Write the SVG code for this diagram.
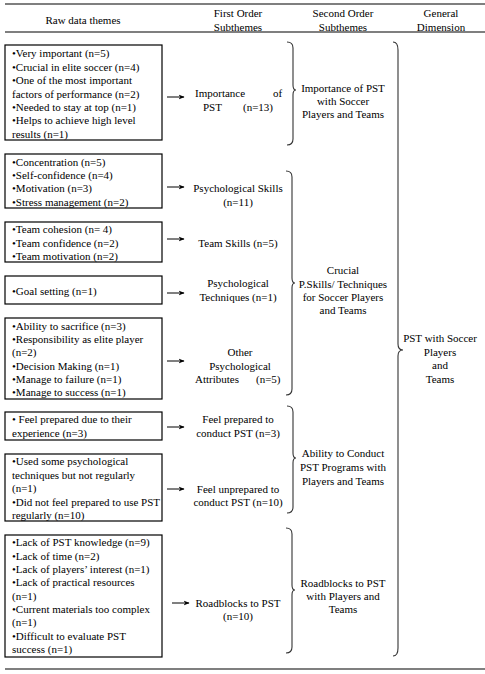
<svg xmlns="http://www.w3.org/2000/svg" width="485" height="674" viewBox="0 0 485 674">
<style>
text{font-family:"Liberation Serif","Times New Roman",serif;font-size:11px;fill:#000}
.c{text-anchor:middle}
.box{fill:#fff;stroke:#000;stroke-width:1.2}
.rule{stroke:#000;stroke-width:1.2}
.arr{stroke:#000;stroke-width:1;fill:none;marker-end:url(#ah)}
.br{stroke:#333;stroke-width:1.1;fill:none}
</style>
<defs>
<marker id="ah" viewBox="0 0 10 10" refX="9" refY="5" markerWidth="6" markerHeight="6" markerUnits="userSpaceOnUse" orient="auto">
<path d="M0,1 L10,5 L0,9 L3,5 Z" fill="#000"/>
</marker>
</defs>
<rect width="485" height="674" fill="#fff"/>
<g id="header">
<line class="rule" x1="5" y1="4" x2="485" y2="4"/>
<line class="rule" x1="5" y1="32" x2="485" y2="32"/>
<text class="c" x="83" y="24">Raw data themes</text>
<text class="c" x="238" y="17">First Order</text>
<text class="c" x="238" y="31">Subthemes</text>
<text class="c" x="343" y="17">Second Order</text>
<text class="c" x="343" y="31">Subthemes</text>
<text class="c" x="441" y="17">General</text>
<text class="c" x="441" y="31">Dimension</text>
<line class="rule" x1="5" y1="669" x2="485" y2="669"/>
</g>
<g id="raw1">
<rect class="box" x="5" y="45" width="157" height="95"/>
<text x="12" y="57">•Very important (n=5)</text>
<text x="12" y="71">•Crucial in elite soccer (n=4)</text>
<text x="12" y="84">•One of the most important</text>
<text x="12" y="98">factors of performance (n=2)</text>
<text x="12" y="111">•Needed to stay at top (n=1)</text>
<text x="12" y="124">•Helps to achieve high level</text>
<text x="12" y="138">results  (n=1)</text>
</g>
<g id="raw2">
<rect class="box" x="5" y="154" width="157" height="54"/>
<text x="12" y="166">•Concentration (n=5)</text>
<text x="12" y="179">•Self-confidence (n=4)</text>
<text x="12" y="192">•Motivation (n=3)</text>
<text x="12" y="206">•Stress management (n=2)</text>
</g>
<g id="raw3">
<rect class="box" x="5" y="222" width="157" height="40"/>
<text x="12" y="233">•Team cohesion (n= 4)</text>
<text x="12" y="247">•Team confidence (n=2)</text>
<text x="12" y="260">•Team motivation (n=2)</text>
</g>
<g id="raw4">
<rect class="box" x="5" y="276" width="157" height="28"/>
<text x="12" y="295">•Goal setting (n=1)</text>
</g>
<g id="raw5">
<rect class="box" x="5" y="318" width="157" height="81"/>
<text x="12" y="330">•Ability to sacrifice (n=3)</text>
<text x="12" y="343">•Responsibility as elite player</text>
<text x="12" y="356">(n=2)</text>
<text x="12" y="370">•Decision Making (n=1)</text>
<text x="12" y="383">•Manage to failure (n=1)</text>
<text x="12" y="396">•Manage to success (n=1)</text>
</g>
<g id="raw6">
<rect class="box" x="5" y="412" width="157" height="28"/>
<text x="12" y="423">• Feel prepared due to their</text>
<text x="12" y="437">experience (n=3)</text>
</g>
<g id="raw7">
<rect class="box" x="5" y="454" width="157" height="67"/>
<text x="12" y="465">•Used some psychological</text>
<text x="12" y="479">techniques but not regularly</text>
<text x="12" y="492">(n=1)</text>
<text x="12" y="506">•Did not feel prepared to use PST</text>
<text x="12" y="519">regularly (n=10)</text>
</g>
<g id="raw8">
<rect class="box" x="5" y="535" width="157" height="122"/>
<text x="12" y="546">•Lack of PST knowledge (n=9)</text>
<text x="12" y="560">•Lack of time (n=2)</text>
<text x="12" y="573">•Lack of players’ interest (n=1)</text>
<text x="12" y="586">•Lack of practical resources</text>
<text x="12" y="600">(n=1)</text>
<text x="12" y="613">•Current materials too complex</text>
<text x="12" y="626">(n=1)</text>
<text x="12" y="640">•Difficult to evaluate PST</text>
<text x="12" y="653">success (n=1)</text>
</g>
<g id="first1">
<text x="195" y="97">Importance<tspan x="273">of</tspan></text>
<text x="203" y="111">PST<tspan x="243">(n=13)</tspan></text>
</g>
<g id="first2">
<text class="c" x="238" y="192">Psychological Skills</text>
<text class="c" x="238" y="206">(n=11)</text>
</g>
<g id="first3">
<text class="c" x="238" y="247">Team Skills  (n=5)</text>
</g>
<g id="first4">
<text class="c" x="238" y="287">Psychological</text>
<text class="c" x="238" y="301">Techniques (n=1)</text>
</g>
<g id="first5">
<text class="c" x="240" y="356">Other</text>
<text class="c" x="240" y="370">Psychological</text>
<text x="195" y="383">Attributes<tspan x="256">(n=5)</tspan></text>
</g>
<g id="first6">
<text class="c" x="238" y="423">Feel prepared to</text>
<text class="c" x="238" y="437">conduct PST (n=3)</text>
</g>
<g id="first7">
<text class="c" x="238" y="493">Feel unprepared to</text>
<text class="c" x="238" y="506">conduct PST (n=10)</text>
</g>
<g id="first8">
<text class="c" x="238" y="607">Roadblocks to PST</text>
<text class="c" x="238" y="620">(n=10)</text>
</g>
<g id="second1">
<text class="c" x="343" y="92">Importance of PST</text>
<text class="c" x="343" y="105">with Soccer</text>
<text class="c" x="343" y="118">Players and Teams</text>
</g>
<g id="second2">
<text class="c" x="343" y="274">Crucial</text>
<text class="c" x="343" y="288">P.Skills/ Techniques</text>
<text class="c" x="343" y="301">for Soccer Players</text>
<text class="c" x="343" y="314">and Teams</text>
</g>
<g id="second3">
<text class="c" x="343" y="457">Ability to Conduct</text>
<text class="c" x="343" y="471">PST Programs with</text>
<text class="c" x="343" y="485">Players and Teams</text>
</g>
<g id="second4">
<text class="c" x="343" y="587">Roadblocks to PST</text>
<text class="c" x="343" y="600">with Players and</text>
<text class="c" x="343" y="613">Teams</text>
</g>
<g id="general">
<text class="c" x="440" y="342">PST with Soccer</text>
<text class="c" x="440" y="356">Players</text>
<text class="c" x="440" y="369">and</text>
<text class="c" x="440" y="383">Teams</text>
</g>
<g id="connectors">
<line class="arr" x1="167" y1="97" x2="184" y2="97"/>
<line class="arr" x1="167" y1="187" x2="184" y2="187"/>
<line class="arr" x1="167" y1="239" x2="184" y2="239"/>
<line class="arr" x1="167" y1="293" x2="184" y2="293"/>
<line class="arr" x1="167" y1="361" x2="184" y2="361"/>
<line class="arr" x1="167" y1="427" x2="184" y2="427"/>
<line class="arr" x1="167" y1="489" x2="184" y2="489"/>
<line class="arr" x1="172" y1="603" x2="189" y2="603"/>
<path class="br" d="M287,42 Q293,42 293,48 L293,85 Q293,90 296,90 Q293,90 293,95 L293,139 Q293,145 287,145"/>
<path class="br" d="M286,171 Q292,171 292,177 L292,278 Q292,283 295,283 Q292,283 292,288 L292,389 Q292,395 286,395"/>
<path class="br" d="M287,406 Q293,406 293,412 L293,453 Q293,458 296,458 Q293,458 293,463 L293,507 Q293,513 287,513"/>
<path class="br" d="M286,528 Q292,528 292,534 L292,585 Q292,590 295,590 Q292,590 292,595 L292,647 Q292,653 286,653"/>
<path class="br" d="M393,42 Q398,42 398,50 L398,344 Q398,350 403,350 Q398,350 398,356 L398,648 Q398,656 393,656"/>
</g>
</svg>
